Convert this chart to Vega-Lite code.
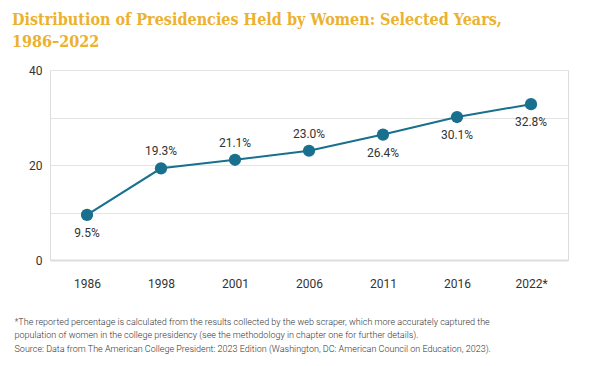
{
  "$schema": "https://vega.github.io/schema/vega-lite/v6.json",
  "width": 518,
  "height": 190,
  "autosize": {"type": "none"},
  "padding": {"left": 50, "top": 70, "right": 32, "bottom": 106},
  "background": "white",
  "title": {
    "text": ["Distribution of Presidencies Held by Women: Selected Years,", "1986–2022"],
    "anchor": "start",
    "frame": "group",
    "dx": -38,
    "dy": -14,
    "font": "DejaVu Serif Condensed",
    "fontSize": 16,
    "fontWeight": "bold",
    "color": "#EBB12F",
    "lineHeight": 22,
    "offset": 0
  },
  "data": {
    "values": [
      {"year": "1986", "pct": 9.5, "label": "9.5%"},
      {"year": "1998", "pct": 19.3, "label": "19.3%"},
      {"year": "2001", "pct": 21.1, "label": "21.1%"},
      {"year": "2006", "pct": 23.0, "label": "23.0%"},
      {"year": "2011", "pct": 26.4, "label": "26.4%"},
      {"year": "2016", "pct": 30.1, "label": "30.1%"},
      {"year": "2022*", "pct": 32.8, "label": "32.8%"}
    ]
  },
  "encoding": {
    "x": {
      "field": "year",
      "type": "ordinal",
      "sort": null,
      "scale": {"type": "point", "padding": 0.5},
      "axis": {
        "title": [
          "*The reported percentage is calculated from the results collected by the web scraper, which more accurately captured the",
          "population of women in the college presidency (see the methodology in chapter one for further details).",
          "Source: Data from The American College President: 2023 Edition (Washington, DC: American Council on Education, 2023)."
        ],
        "titleFont": "Roboto",
        "titleFontSize": 9,
        "titleFontWeight": 300,
        "titleColor": "#333333",
        "titleAnchor": "start",
        "titleAlign": "left",
        "titleBaseline": "top",
        "titleX": -36,
        "titleY": 57,
        "titleLineHeight": 13.5,
        "labelAngle": 0,
        "labelFont": "Roboto",
        "labelFontSize": 12,
        "labelColor": "#333333",
        "labelPadding": 18,
        "ticks": false,
        "domainColor": "#dddddd",
        "domainWidth": 2,
        "grid": false
      }
    },
    "y": {
      "field": "pct",
      "type": "quantitative",
      "scale": {"domain": [0, 40], "nice": false},
      "axis": {
        "title": null,
        "values": [0, 10, 20, 30, 40],
        "labelExpr": "datum.value % 20 === 0 ? datum.label : ''",
        "labelFont": "Roboto",
        "labelFontSize": 12,
        "labelColor": "#333333",
        "labelPadding": 8,
        "ticks": false,
        "domain": false,
        "gridColor": "#e4e4e4",
        "gridWidth": 1
      }
    }
  },
  "layer": [
    {"mark": {"type": "line", "color": "#186F8E", "strokeWidth": 2}},
    {"mark": {"type": "point", "filled": true, "opacity": 1, "color": "#186F8E", "size": 150}},
    {
      "transform": [{"filter": "datum.year === '1998' || datum.year === '2001' || datum.year === '2006'"}],
      "mark": {"type": "text", "dy": -17, "font": "Roboto", "fontSize": 12, "color": "#333333"},
      "encoding": {"text": {"field": "label"}}
    },
    {
      "transform": [{"filter": "datum.year === '1986' || datum.year === '2011' || datum.year === '2016' || datum.year === '2022*'"}],
      "mark": {"type": "text", "dy": 18, "font": "Roboto", "fontSize": 12, "color": "#333333"},
      "encoding": {"text": {"field": "label"}}
    }
  ]
}
